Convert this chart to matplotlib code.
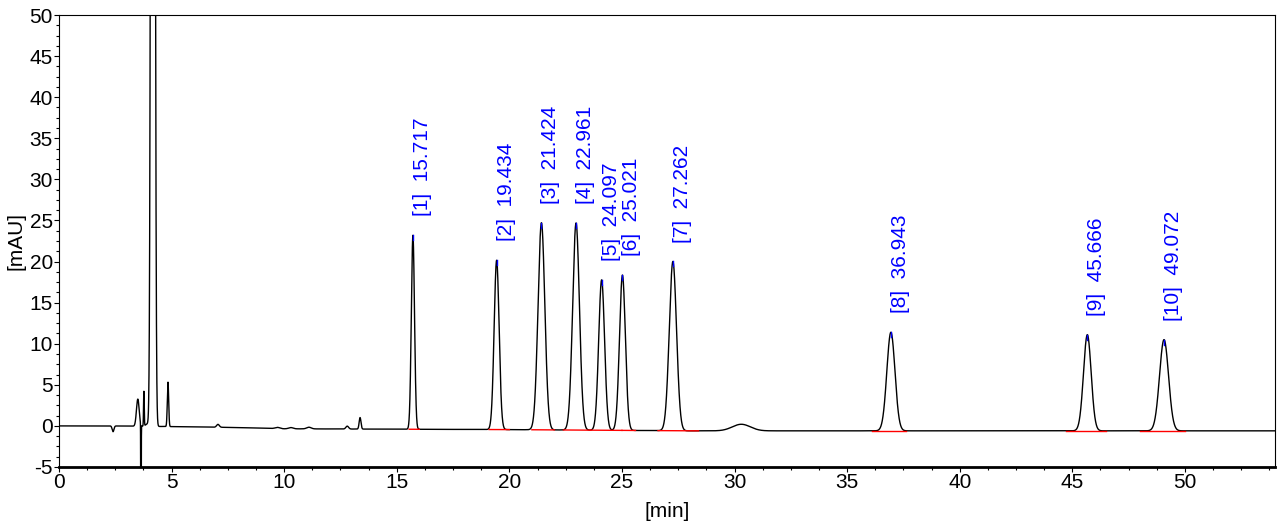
import numpy as np
import matplotlib
matplotlib.use("Agg")
import matplotlib.pyplot as plt
from matplotlib.ticker import MultipleLocator

plt.rcParams['font.family'] = ['Liberation Sans', 'DejaVu Sans']
plt.rcParams['axes.unicode_minus'] = False

# labelled peaks: retention time [min], height [mAU], sigma [min]
peak_rt = [15.717, 19.434, 21.424, 22.961, 24.097, 25.021, 27.262, 36.943, 45.666, 49.072]
peak_h = [23.6, 20.6, 25.2, 25.2, 18.3, 18.9, 20.6, 12.0, 11.7, 11.1]
peak_sd = [0.07, 0.11, 0.15, 0.15, 0.13, 0.13, 0.16, 0.18, 0.17, 0.20]
peak_no = ['1', '2', '3', '4', '5', '6', '7', '8', '9', '10']

# integration baselines (red) under each peak
seg_start = [15.55, 19.1, 21.0, 22.4, 23.6, 25.0, 26.6, 36.1, 44.7, 48.0]
seg_end = [16.0, 20.0, 22.0, 23.6, 25.0, 25.6, 28.4, 37.6, 46.5, 50.0]

# unlabelled features (solvent front, impurities)
imp_rt = [2.40, 3.50, 3.64, 3.77, 3.95, 4.17, 4.84, 7.06, 9.7, 10.3, 11.1, 12.8, 13.37, 30.3]
imp_h = [-0.7, 3.3, -30.0, 4.2, 0.3, 400.0, 5.4, 0.35, 0.15, 0.15, 0.2, 0.35, 1.4, 0.8]
imp_sd = [0.04, 0.06, 0.008, 0.015, 0.1, 0.06, 0.03, 0.06, 0.1, 0.1, 0.1, 0.06, 0.04, 0.4]

# baseline drift
base_t = [0, 2.3, 5.5, 8, 10, 15, 20, 28, 35, 54]
base_y = [0, 0, -0.1, -0.2, -0.35, -0.4, -0.45, -0.6, -0.6, -0.6]

t = np.arange(0, 54.001, 0.002)
base = np.interp(t, base_t, base_y)
y = base.copy()
for rt, h, sd in zip(peak_rt + imp_rt, peak_h + imp_h, peak_sd + imp_sd):
    y += h * np.exp(-0.5 * ((t - rt) / sd) ** 2)

fig = plt.figure(figsize=(12.88, 5.27), dpi=100)
ax = fig.add_axes([59 / 1288, 1 - 467 / 527, (1275 - 59) / 1288, (467 - 15) / 527])

ax.plot(t, y, color='black', lw=1.0, zorder=2)
for s, e in zip(seg_start, seg_end):
    ax.plot([s, e], np.interp([s, e], base_t, base_y), color='red', lw=1.0, zorder=3)

for rt, h, no in zip(peak_rt, peak_h, peak_no):
    top = h + np.interp(rt, base_t, base_y)
    ax.plot([rt, rt], [top - 0.6, top], color='blue', lw=1.0, zorder=3)
    ax.text(rt, top + 2.3, '[%s]  %.3f' % (no, rt), rotation=90, color='blue',
            fontsize=15, ha='left', va='bottom')

ax.set_xlim(0, 54)
ax.set_ylim(-5, 50)
ax.xaxis.set_major_locator(MultipleLocator(5))
ax.xaxis.set_minor_locator(MultipleLocator(1.25))
ax.yaxis.set_major_locator(MultipleLocator(5))
ax.yaxis.set_minor_locator(MultipleLocator(1.25))
ax.tick_params(which='major', direction='out', length=3.5, width=0.8, labelsize=15, pad=1)
ax.tick_params(which='minor', direction='out', length=2, width=0.8)
ax.spines['bottom'].set_linewidth(2)
for sp in ['left', 'top', 'right']:
    ax.spines[sp].set_linewidth(0.8)

ax.set_xlabel('[min]', fontsize=15, labelpad=7)
ax.set_ylabel('[mAU]', fontsize=15, labelpad=3)

fig.savefig('out.png', dpi=100)
